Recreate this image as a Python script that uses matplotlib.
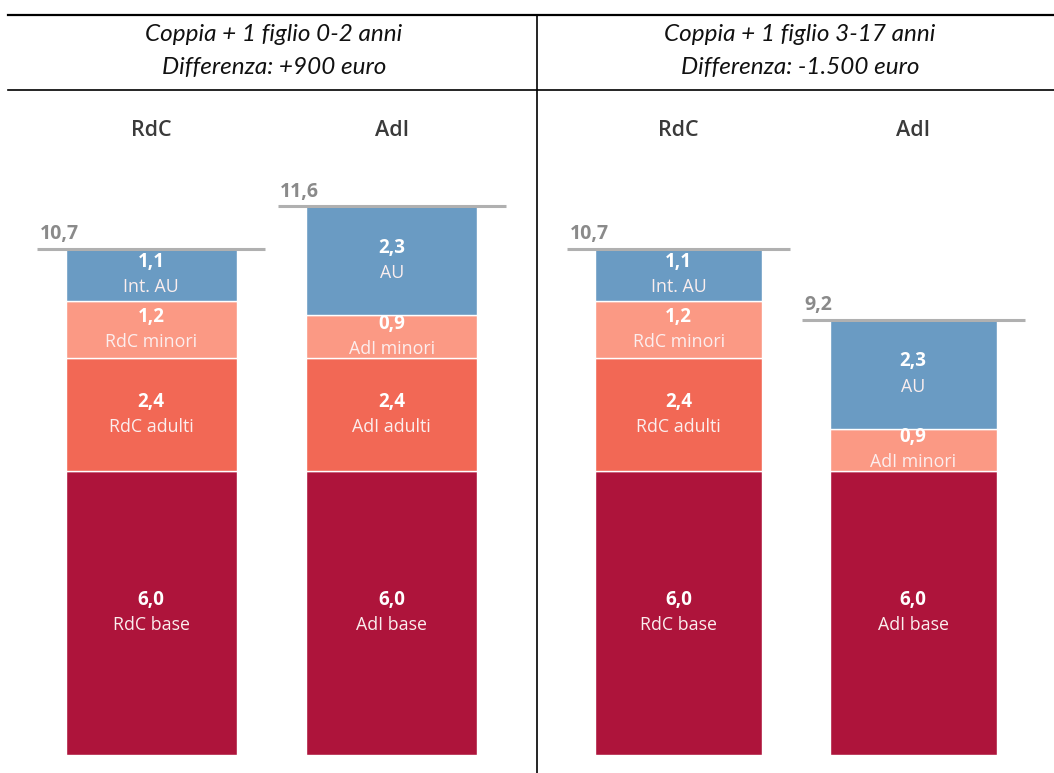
import matplotlib
matplotlib.use("Agg")
import matplotlib.pyplot as plt
from matplotlib.lines import Line2D

# Data (thousands of euro per year)
panel_titles = ["Coppia + 1 figlio 0-2 anni\nDifferenza: +900 euro",
                "Coppia + 1 figlio 3-17 anni\nDifferenza: -1.500 euro"]
bar_names = ["RdC", "AdI"]

# segments bottom -> top: (value, label, colour key)
left_rdc = [(6.0, "RdC base", "base"), (2.4, "RdC adulti", "adulti"),
            (1.2, "RdC minori", "minori"), (1.1, "Int. AU", "au")]
left_adi = [(6.0, "AdI base", "base"), (2.4, "AdI adulti", "adulti"),
            (0.9, "AdI minori", "minori"), (2.3, "AU", "au")]
right_rdc = [(6.0, "RdC base", "base"), (2.4, "RdC adulti", "adulti"),
             (1.2, "RdC minori", "minori"), (1.1, "Int. AU", "au")]
right_adi = [(6.0, "AdI base", "base"), (0.9, "AdI minori", "minori"),
             (2.3, "AU", "au")]
totals = [[10.7, 11.6], [10.7, 9.2]]

colors = {"base": "#ae143b", "adulti": "#f26855", "minori": "#fb9984", "au": "#6a9bc3"}

W, H = 1054, 773
fig = plt.figure(figsize=(W / 100, H / 100), dpi=100)

def fx(px):
    return px / W

def fy(py):
    return 1 - py / H

# frame lines of the table
fig.add_artist(Line2D([fx(8), fx(1054)], [fy(15), fy(15)], color="black", lw=1.6))
fig.add_artist(Line2D([fx(8), fx(1054)], [fy(90), fy(90)], color="black", lw=1.2))
fig.add_artist(Line2D([fx(537), fx(537)], [fy(15), fy(773)], color="black", lw=1.2))

title_x = [274, 800]
for t, x in zip(panel_titles, title_x):
    fig.text(fx(x), fy(51), t, ha="center", va="center", fontsize=17.5,
             style="italic", family="Lato", linespacing=1.75, color="#111111")

sans = "Open Sans"
y0_px, unit_px = 755, 47.3
ax_top_px = 100
panels = [(7, 536, [left_rdc, left_adi]), (538, 1054, [right_rdc, right_adi])]
width = 0.71
ext = 0.12

for pi, (xl, xr, bars) in enumerate(panels):
    ax = fig.add_axes([fx(xl), fy(y0_px), fx(xr - xl), (y0_px - ax_top_px) / H])
    ymax = (y0_px - ax_top_px) / unit_px
    ax.set_xlim(-0.6, 1.6)
    ax.set_ylim(0, ymax)
    ax.axis("off")
    for bi, segs in enumerate(bars):
        bottom = 0.0
        for val, lab, key in segs:
            ax.bar(bi, val, width=width, bottom=bottom, color=colors[key],
                   edgecolor="white", linewidth=1.0)
            mid = bottom + val / 2
            ax.text(bi, mid + 0.27, f"{val:.1f}".replace(".", ","), ha="center",
                    va="center", color="white", fontsize=13.5, fontweight="bold",
                    family=sans)
            ax.text(bi, mid - 0.26, lab, ha="center", va="center",
                    color="#fbeeee", fontsize=12.8, family=sans)
            bottom += val
        tot = totals[pi][bi]
        x_a, x_b = bi - width / 2 - ext, bi + width / 2 + ext
        ax.plot([x_a, x_b], [tot, tot], color="#b0b0b0", lw=2.2,
                solid_capstyle="butt", clip_on=False)
        ax.text(x_a + 0.01, tot + 0.1, f"{tot:.1f}".replace(".", ","),
                ha="left", va="bottom", color="#8a8a8a", fontsize=14,
                fontweight="bold", family=sans)
        ax.text(bi, (y0_px - 130) / unit_px, bar_names[bi], ha="center",
                va="center", color="#3a3a3a", fontsize=15.5, fontweight="semibold",
                family=sans)

fig.savefig("out.png", dpi=100)
